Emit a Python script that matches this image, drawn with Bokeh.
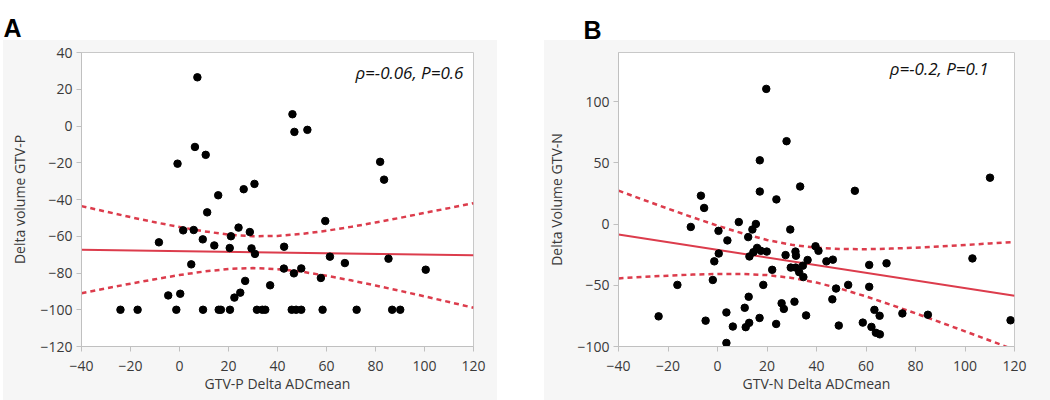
from bokeh.plotting import figure
from bokeh.models import Label, FixedTicker, Range1d, Spacer
from bokeh.layouts import row
from bokeh.embed import file_html
from bokeh.resources import INLINE

# ---------------- Data ----------------
# Panel A: GTV-P Delta ADCmean vs Delta volume GTV-P
a_x = [7.3, 6.3, 10.7, -0.8, 15.8, 26.2, 30.6,
       46.1, 46.9, 52.2, 81.9, 83.5,
       11.3, -8.4, 1.5, 5.8, 9.5, 14.2, 20.5, 21.0, 24.1, 28.7, 29.4, 30.8,
       4.8, -4.6, 0.3, 24.8, 22.4, 26.8, 37.0,
       42.7, 59.5, 61.4, 67.5, 85.3, 100.5, 42.6, 46.7, 49.7, 57.7,
       -24.1, -17.1, -1.3, 9.6, 16.0, 16.9, 20.6, 31.6, 33.8, 35.0,
       45.8, 47.6, 49.7, 58.4, 72.3, 86.8, 90.1]
a_y = [26.5, -11.4, -15.7, -20.5, -37.7, -34.4, -31.5,
       6.4, -3.2, -2.1, -19.5, -29.2,
       -47.0, -63.3, -56.8, -56.6, -61.7, -65.0, -66.4, -60.0, -55.3, -57.7, -66.6, -69.6,
       -75.3, -92.2, -91.3, -90.7, -93.4, -84.3, -86.7,
       -65.7, -51.7, -71.1, -74.6, -72.2, -78.2, -77.6, -80.2, -77.5, -82.7,
       -100, -100, -100, -100, -100, -100, -100, -100, -100, -100,
       -100, -100, -100, -100, -100, -100, -100]

# Panel B: GTV-N Delta ADCmean vs Delta Volume GTV-N
b_x = [19.7, 27.9, 17.1, 17.1, 33.4, -6.7, 23.8, 55.5, 110.1,
       -5.4, -10.8, 0.4, 8.6, 15.5, 14.1, 29.4, 12.4, 4.0, 0.5, -1.3, -1.9,
       -16.2, -23.8, -4.8, 3.6, 16.0, 17.5, 19.9, 14.5, 12.9, 22.1, 18.5,
       27.5, 31.5, 31.7, 29.6, 31.6, 33.0, 34.7, 34.5, 36.4, 39.6, 40.8,
       44.0, 46.6, 47.9, 46.4, 52.8, 49.0, 61.3, 61.3, 68.3, 58.7, 63.4,
       65.5, 62.2, 64.0, 65.6, 74.7, 85.0, 103.0, 118.4, 31.1, 25.9, 26.8,
       35.8, 17.0, 23.7, 11.0, 12.6, 12.8, 11.4, 6.2, 3.6]
b_y = [110.3, 67.6, 52.0, 26.5, 30.6, 23.1, 20.1, 27.1, 37.8,
       13.1, -2.4, -5.6, 1.6, 0.0, -4.5, -4.5, -10.7, -13.4, -24.1, -30.5, -45.7,
       -49.7, -75.4, -78.9, -97.1, -19.5, -21.9, -22.5, -23.0, -26.5, -37.4, -49.7,
       -25.4, -22.5, -25.9, -35.6, -35.6, -39.3, -43.3, -34.0, -29.4, -18.2, -21.9,
       -30.5, -29.1, -52.7, -61.5, -49.7, -82.9, -33.4, -51.3, -32.1, -80.5, -70.1,
       -74.9, -84.0, -88.8, -90.1, -73.0, -74.1, -28.1, -78.6, -63.4, -64.7, -69.3,
       -74.6, -76.7, -81.6, -68.4, -59.4, -80.7, -84.2, -83.7, -72.2]

# Fitted line and 95% confidence band
band_x = [-40, -30, -20, -10, 0, 10, 20, 30, 40, 50, 60, 70, 80, 90, 100, 110, 120]
a_fit_x = [-40, 120]
a_fit_y = [-67.3, -70.4]
a_band_hi = [-43.6, -46.6, -49.6, -52.4, -55.0, -57.3, -59.1, -60.0, -59.8,
             -58.7, -57.0, -54.9, -52.5, -50.0, -47.3, -44.7, -42.0]
a_band_lo = [-91.0, -88.4, -85.8, -83.4, -81.1, -79.2, -77.8, -77.3, -77.9,
             -79.3, -81.5, -84.0, -86.8, -89.7, -92.7, -95.8, -98.9]
b_fit_x = [-40, 120]
b_fit_y = [-8.6, -58.6]
b_band_hi = [27.2, 19.8, 12.5, 5.4, -1.4, -7.6, -13.0, -17.0, -19.4,
             -20.4, -20.6, -20.1, -19.3, -18.3, -17.1, -15.9, -14.6]
b_band_lo = [-44.4, -43.2, -42.2, -41.3, -40.8, -40.8, -41.7, -44.0, -47.8,
             -53.0, -59.1, -65.9, -72.9, -80.2, -87.6, -95.1, -102.7]

x_ticks = [-40, -20, 0, 20, 40, 60, 80, 100, 120]
a_y_ticks = [-120, -100, -80, -60, -40, -20, 0, 20, 40]
b_y_ticks = [-100, -50, 0, 50, 100]

a_stat = "ρ=-0.06, P=0.6"
b_stat = "ρ=-0.2, P=0.1"

RED = "#dc3c4c"
BG = "#f6f6f6"
FONT = "Open Sans"
TXT = "#3a3a3a"
PANEL_CSS = ("linear-gradient(to bottom, #ffffff 0px, #ffffff 40px, "
             + BG + " 40px, " + BG + " 100%)")


def panel(letter, letter_offset, letter_standoff,
          xs_data, ys_data, fit_x, fit_y, hi, lo, yr, yticks, xlabel, ylabel,
          stat, stat_xy, width, mb_left, mb_right, mb_top, mb_bottom):
    p = figure(width=width, height=400, x_range=Range1d(-40, 120),
               y_range=Range1d(*yr), output_backend="svg",
               toolbar_location=None,
               min_border_left=mb_left, min_border_right=mb_right,
               min_border_top=mb_top, min_border_bottom=mb_bottom,
               styles={"background": PANEL_CSS})
    p.background_fill_color = "white"
    p.border_fill_color = None
    p.outline_line_color = "#c8c8c8"
    p.outline_line_width = 1
    p.grid.visible = False

    p.title.text = letter
    p.title.align = "left"
    p.title.offset = letter_offset
    p.title.standoff = letter_standoff
    p.title.text_font = "Liberation Sans"
    p.title.text_font_style = "bold"
    p.title.text_font_size = "25px"
    p.title.text_color = "black"

    p.xaxis.ticker = FixedTicker(ticks=x_ticks)
    p.yaxis.ticker = FixedTicker(ticks=yticks)
    for ax in (p.xaxis, p.yaxis):
        ax.axis_line_color = "#c0c0c0"
        ax.major_tick_line_color = "#c0c0c0"
        ax.major_tick_out = 5
        ax.major_tick_in = 0
        ax.minor_tick_line_color = None
        ax.major_label_text_font = FONT
        ax.major_label_text_font_size = "14px"
        ax.major_label_text_color = TXT
        ax.axis_label_text_font = FONT
        ax.axis_label_text_font_size = "14px"
        ax.axis_label_text_font_style = "normal"
        ax.axis_label_text_color = TXT
    p.xaxis.axis_label = xlabel
    p.yaxis.axis_label = ylabel
    p.xaxis.axis_label_standoff = 0
    p.yaxis.axis_label_standoff = 8
    p.xaxis.major_label_standoff = 9
    p.yaxis.major_label_standoff = 4

    p.line(fit_x, fit_y, line_color=RED, line_width=2)
    p.line(band_x, lo, line_color=RED, line_width=2.5, line_dash="5 4",
           line_join="round")
    p.line(band_x, hi, line_color=RED, line_width=2.5, line_dash="5 4",
           line_join="round")

    p.scatter(xs_data, ys_data, size=7.5, fill_color="black", line_color="black")

    p.add_layout(Label(x=stat_xy[0], y=stat_xy[1], text=stat,
                       text_font=FONT, text_font_style="italic",
                       text_font_size="17px", text_color="#111111",
                       text_align="right", text_baseline="middle"))
    return p


pa = panel("A", -78, 22, a_x, a_y, a_fit_x, a_fit_y, a_band_hi, a_band_lo,
           (-120, 40), a_y_ticks, "GTV-P Delta ADCmean", "Delta volume GTV-P",
           a_stat, (115.9, 29.1), 494, 78, 24, 52, 54)
pb = panel("B", -35, 18, b_x, b_y, b_fit_x, b_fit_y, b_band_hi, b_band_lo,
           (-100, 140), b_y_ticks, "GTV-N Delta ADCmean", "Delta Volume GTV-N",
           b_stat, (109.5, 127.0), 506, 74, 36, 48, 54)

layout = row(Spacer(width=3, height=400), pa, Spacer(width=47, height=400), pb,
             spacing=0)

open("out.html", "w").write(file_html(layout, INLINE))
